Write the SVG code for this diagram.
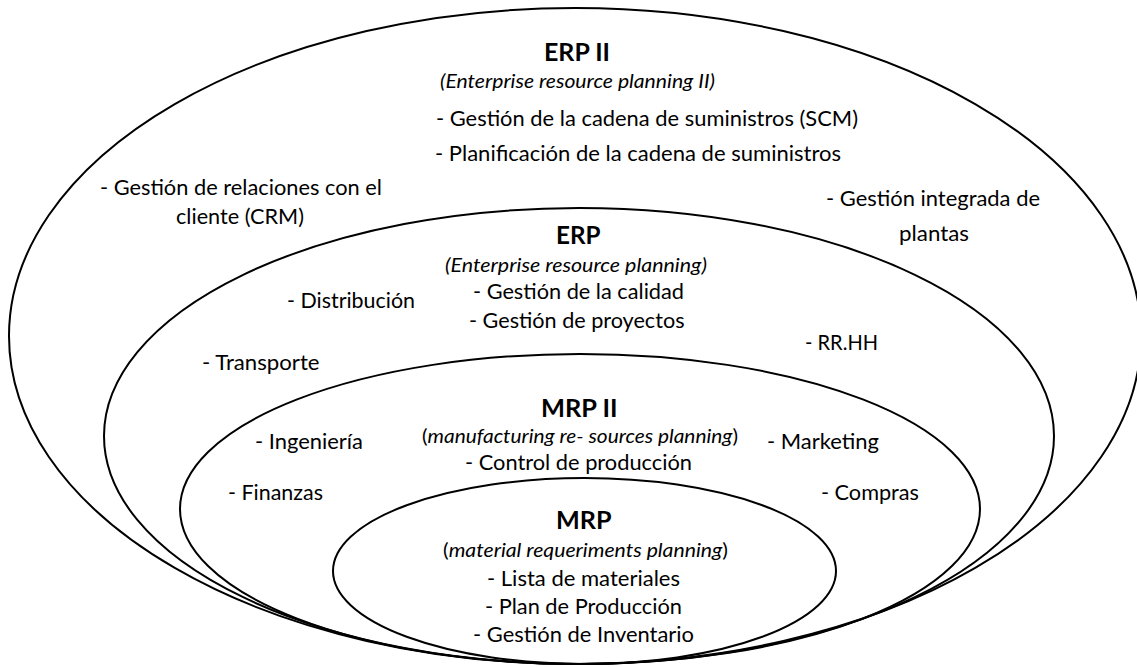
<svg xmlns="http://www.w3.org/2000/svg" width="1137" height="667" viewBox="0 0 1137 667">
  <style>
    .ring { fill: none; stroke: #000; stroke-width: 2; }
    text { font-family: Lato, "Open Sans", "Liberation Sans", sans-serif; fill: #000; }
    .r { font-size: 22px; }
    .i { font-size: 19.5px; font-style: italic; }
    .up { font-style: normal; }
    .b { font-size: 25.5px; font-weight: bold; }
  </style>
  <rect x="0" y="0" width="1137" height="667" fill="#fff"/>

  <g id="erp2">
    <ellipse class="ring" cx="575" cy="336" rx="566" ry="328"/>
    <text class="b" x="544" y="61" textLength="66" lengthAdjust="spacingAndGlyphs">ERP II</text>
    <text class="i" x="440" y="88" textLength="275" lengthAdjust="spacingAndGlyphs">(Enterprise resource planning II)</text>
    <text class="r" x="436" y="126" textLength="422" lengthAdjust="spacingAndGlyphs">- Gestión de la cadena de suministros (SCM)</text>
    <text class="r" x="435" y="161" textLength="406" lengthAdjust="spacingAndGlyphs">- Planificación de la cadena de suministros</text>
    <text class="r" x="100" y="195" textLength="282" lengthAdjust="spacingAndGlyphs">- Gestión de relaciones con el</text>
    <text class="r" x="176" y="224" textLength="128" lengthAdjust="spacingAndGlyphs">cliente (CRM)</text>
    <text class="r" x="826" y="206" textLength="214" lengthAdjust="spacingAndGlyphs">- Gestión integrada de</text>
    <text class="r" x="899" y="241" textLength="70" lengthAdjust="spacingAndGlyphs">plantas</text>
  </g>

  <g id="erp">
    <ellipse class="ring" cx="579" cy="436" rx="475" ry="228"/>
    <text class="b" x="556" y="244" textLength="44.5" lengthAdjust="spacingAndGlyphs">ERP</text>
    <text class="i" x="445" y="272" textLength="262" lengthAdjust="spacingAndGlyphs">(Enterprise resource planning)</text>
    <text class="r" x="473" y="299" textLength="211" lengthAdjust="spacingAndGlyphs">- Gestión de la calidad</text>
    <text class="r" x="469" y="328" textLength="215.5" lengthAdjust="spacingAndGlyphs">- Gestión de proyectos</text>
    <text class="r" x="287" y="308" textLength="128" lengthAdjust="spacingAndGlyphs">- Distribución</text>
    <text class="r" x="805" y="350" textLength="73" lengthAdjust="spacingAndGlyphs">- RR.HH</text>
    <text class="r" x="202" y="370" textLength="117.5" lengthAdjust="spacingAndGlyphs">- Transporte</text>
  </g>

  <g id="mrp2">
    <ellipse class="ring" cx="580" cy="509" rx="400" ry="155"/>
    <text class="b" x="541" y="417" textLength="76.5" lengthAdjust="spacingAndGlyphs">MRP II</text>
    <text class="i" x="422" y="443" textLength="316" lengthAdjust="spacingAndGlyphs"><tspan class="up">(</tspan>manufacturing re- sources planning<tspan class="up">)</tspan></text>
    <text class="r" x="255" y="449" textLength="108" lengthAdjust="spacingAndGlyphs">- Ingeniería</text>
    <text class="r" x="767" y="449" textLength="112" lengthAdjust="spacingAndGlyphs">- Marketing</text>
    <text class="r" x="465" y="470" textLength="227" lengthAdjust="spacingAndGlyphs">- Control de producción</text>
    <text class="r" x="228" y="500" textLength="95" lengthAdjust="spacingAndGlyphs">- Finanzas</text>
    <text class="r" x="821" y="500" textLength="98" lengthAdjust="spacingAndGlyphs">- Compras</text>
  </g>

  <g id="mrp">
    <ellipse class="ring" cx="584.5" cy="571" rx="251.5" ry="93"/>
    <text class="b" x="556" y="529" textLength="55.5" lengthAdjust="spacingAndGlyphs">MRP</text>
    <text class="i" x="443" y="557" textLength="285" lengthAdjust="spacingAndGlyphs"><tspan class="up">(</tspan>material requeriments planning<tspan class="up">)</tspan></text>
    <text class="r" x="487" y="586" textLength="193" lengthAdjust="spacingAndGlyphs">- Lista de materiales</text>
    <text class="r" x="485" y="614" textLength="197" lengthAdjust="spacingAndGlyphs">- Plan de Producción</text>
    <text class="r" x="473" y="642" textLength="221" lengthAdjust="spacingAndGlyphs">- Gestión de Inventario</text>
  </g>

  <g id="connectors"/>
</svg>
